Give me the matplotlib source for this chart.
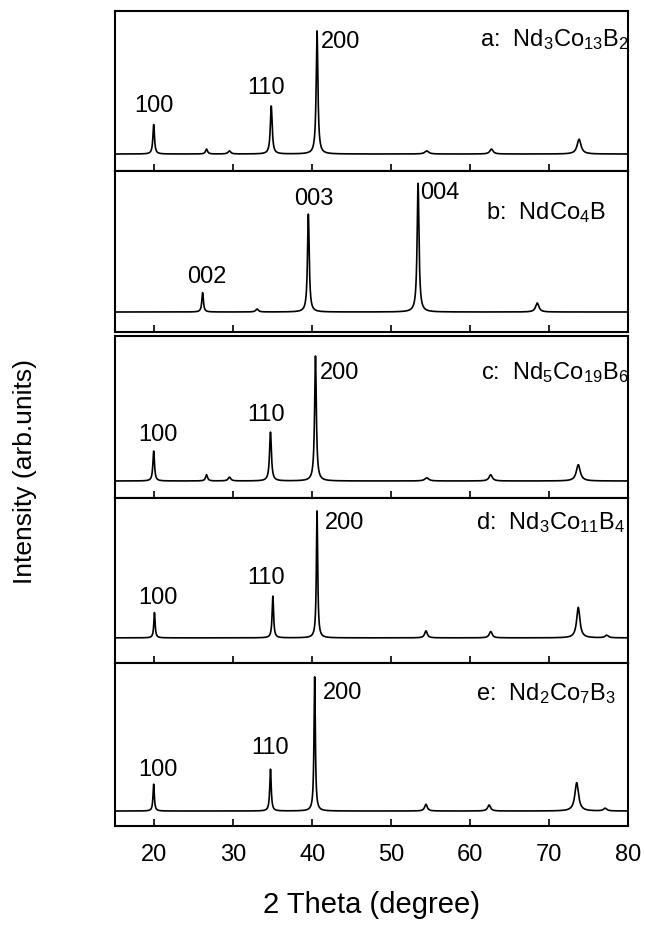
import numpy as np
import matplotlib
matplotlib.use('Agg')
import matplotlib.pyplot as plt

plt.rcParams['font.family'] = ['Liberation Sans', 'DejaVu Sans']
plt.rcParams['mathtext.default'] = 'regular'

# peak positions (2theta), intensities (200 / 004 = 100), half widths
a_pos = [19.9, 26.6, 29.5, 34.8, 40.6, 54.5, 62.7, 73.8]
a_int = [24, 4, 2.5, 39, 100, 2.5, 4, 12]
a_wid = [0.12, 0.15, 0.2, 0.14, 0.13, 0.3, 0.25, 0.3]

b_pos = [26.1, 33.0, 39.5, 53.4, 68.5]
b_int = [15, 2.3, 76, 100, 7]
b_wid = [0.12, 0.2, 0.13, 0.14, 0.25]

c_pos = [19.9, 26.6, 29.5, 34.7, 40.4, 54.5, 62.6, 73.7]
c_int = [24, 5, 3, 39, 100, 2.5, 5, 13]
c_wid = [0.12, 0.15, 0.2, 0.14, 0.13, 0.3, 0.25, 0.3]

d_pos = [20.0, 35.0, 40.6, 54.4, 62.6, 73.7, 77.3]
d_int = [20, 33, 100, 5.5, 5, 24, 2]
d_wid = [0.1, 0.11, 0.1, 0.2, 0.22, 0.25, 0.25]

e_pos = [19.9, 34.7, 40.3, 54.4, 62.4, 73.5, 77.1]
e_int = [20, 31, 100, 5, 4.5, 21, 2]
e_wid = [0.1, 0.11, 0.1, 0.2, 0.22, 0.28, 0.25]

panels = [
    (a_pos, a_int, a_wid, 'a:  Nd$_3$Co$_{13}$B$_2$',
     [('100', 19.9, 0.41, 'center'), ('110', 34.1, 0.525, 'center'), ('200', 41.1, 0.81, 'left')],
     (61.3, 0.825), (-13.8, 116.2)),
    (b_pos, b_int, b_wid, 'b:  NdCo$_4$B',
     [('002', 26.6, 0.35, 'center'), ('003', 40.2, 0.83, 'center'), ('004', 53.7, 0.87, 'left')],
     (62.0, 0.75), (-15.5, 109.3)),
    (c_pos, c_int, c_wid, 'c:  Nd$_5$Co$_{19}$B$_6$',
     [('100', 20.4, 0.395, 'center'), ('110', 34.1, 0.52, 'center'), ('200', 40.9, 0.78, 'left')],
     (61.4, 0.78), (-13.6, 115.9)),
    (d_pos, d_int, d_wid, 'd:  Nd$_3$Co$_{11}$B$_4$',
     [('100', 20.5, 0.40, 'center'), ('110', 34.1, 0.52, 'center'), ('200', 41.6, 0.855, 'left')],
     (60.8, 0.855), (-19.8, 110.2)),
    (e_pos, e_int, e_wid, 'e:  Nd$_2$Co$_7$B$_3$',
     [('100', 20.4, 0.35, 'center'), ('110', 34.6, 0.485, 'center'), ('200', 41.3, 0.82, 'left')],
     (60.8, 0.82), (-11.1, 109.7)),
]

# panel extents in pixels (top, bottom)
extents = [(12, 172), (172, 333), (337, 499), (499, 664), (664, 827)]
W, H = 645, 928
left, right = 115, 628

fig = plt.figure(figsize=(6.45, 9.28), dpi=100)
x = np.linspace(15, 80, 4000)

axes = []
for (pos, inten, wid, name, hkl, npos, ylim), (t, b) in zip(panels, extents):
    ax = fig.add_axes([left / W, 1 - b / H, (right - left) / W, (b - t) / H])
    y = np.zeros_like(x)
    for p, h, w in zip(pos, inten, wid):
        y += h / (1 + ((x - p) / w) ** 2)
    ax.plot(x, y, color='black', lw=1.2)
    ax.set_xlim(15, 80)
    ax.set_ylim(*ylim)
    ax.set_yticks([])
    ax.set_xticks([20, 30, 40, 50, 60, 70, 80])
    ax.tick_params(axis='x', direction='in', length=5, width=1.2, labelbottom=False,
                   labelsize=17)
    for s in ax.spines.values():
        s.set_linewidth(1.5)
    tr = ax.get_xaxis_transform()
    for lab, xx, yy, ha in hkl:
        ax.text(xx, yy, lab, transform=tr, ha=ha, va='center', fontsize=17)
    ax.text(npos[0], npos[1], name, transform=tr, ha='left', va='center', fontsize=17)
    axes.append(ax)

axes[-1].tick_params(axis='x', labelbottom=True, pad=12)
axes[-1].set_xlabel('2 Theta (degree)', fontsize=21, labelpad=18)
fig.text(25 / W, 1 - 472 / H, 'Intensity (arb.units)', rotation=90,
         ha='center', va='center', fontsize=19)

plt.savefig('out.png', dpi=100)
